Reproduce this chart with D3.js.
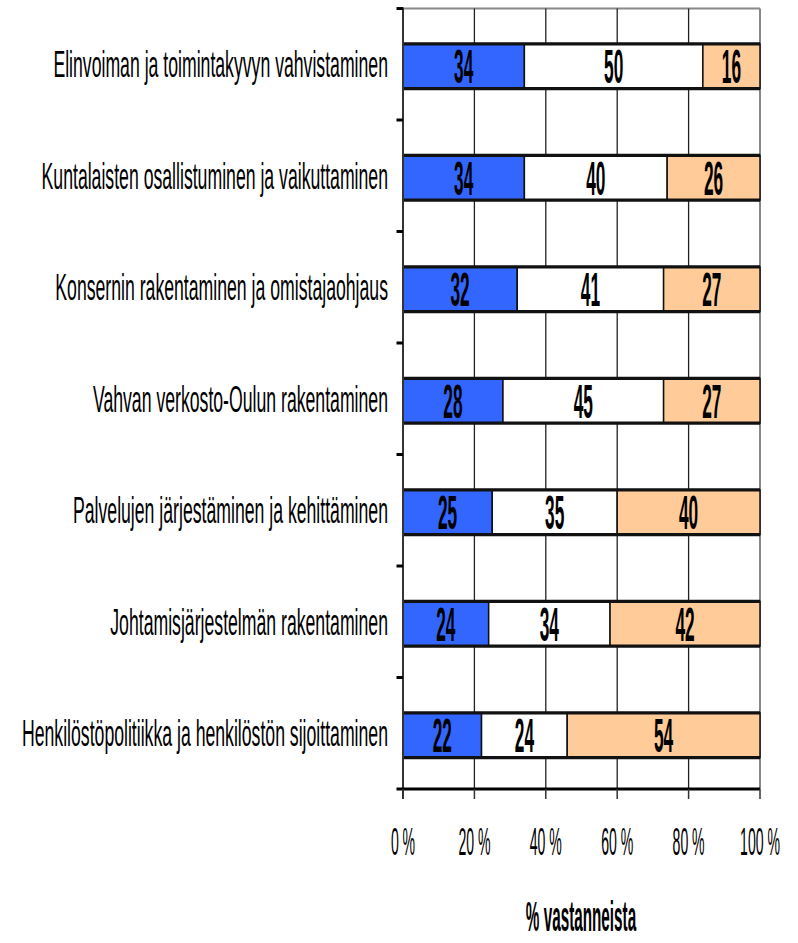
<!DOCTYPE html>
<html>
<head>
<meta charset="utf-8">
<script src="https://cdn.jsdelivr.net/npm/d3@7"></script>
<style>
  html, body { margin: 0; padding: 0; background: #fff; }
  svg { display: block; }
  text { font-family: "Liberation Sans", Arial, sans-serif; }
</style>
</head>
<body>
<svg id="chart" width="798" height="943"></svg>
<script>
const categories = [
  "Elinvoiman ja toimintakyvyn vahvistaminen",
  "Kuntalaisten osallistuminen ja vaikuttaminen",
  "Konsernin rakentaminen ja omistajaohjaus",
  "Vahvan verkosto-Oulun rakentaminen",
  "Palvelujen järjestäminen ja kehittäminen",
  "Johtamisjärjestelmän rakentaminen",
  "Henkilöstöpolitiikka ja henkilöstön sijoittaminen"
];
const seriesA = [34, 34, 32, 28, 25, 24, 22];
const seriesB = [50, 40, 41, 45, 35, 34, 24];
const seriesC = [16, 26, 27, 27, 40, 42, 54];
const tickValues = [0, 20, 40, 60, 80, 100];
const tickLabels = ["0 %", "20 %", "40 %", "60 %", "80 %", "100 %"];
const axisTitle = "% vastanneista";
const seriesColors = ["#3366FF", "#FFFFFF", "#FFCC99"];

const svg = d3.select("#chart");
const pLeft = 403, pRight = 760, pTop = 8.5, pBottom = 789;

const x = d3.scaleLinear().domain([0, 100]).range([pLeft, pRight]);
const y = d3.scaleBand().domain(categories).range([pTop, pBottom]).padding(0);
const barH = y.bandwidth() * 0.4;
const barOff = (y.bandwidth() - barH) / 2 + 2;

const rows = categories.map((c, i) => {
  const vals = [seriesA[i], seriesB[i], seriesC[i]];
  let acc = 0;
  return { cat: c, segs: vals.map((v, k) => { const s = { x0: acc, x1: acc + v, v, k }; acc += v; return s; }) };
});

// plot frame: top and right gray borders
svg.append("line").attr("x1", pLeft).attr("x2", pRight).attr("y1", pTop).attr("y2", pTop)
  .attr("stroke", "#888").attr("stroke-width", 2);
svg.append("line").attr("x1", pRight).attr("x2", pRight).attr("y1", pTop).attr("y2", pBottom)
  .attr("stroke", "#888").attr("stroke-width", 2);

// vertical gridlines
svg.append("g").selectAll("line").data(tickValues.slice(1, -1)).join("line")
  .attr("x1", d => x(d)).attr("x2", d => x(d))
  .attr("y1", pTop).attr("y2", pBottom)
  .attr("stroke", "#222").attr("stroke-width", 1.3);

// bars
const rowG = svg.append("g").selectAll("g").data(rows).join("g")
  .attr("transform", d => `translate(0,${y(d.cat) + barOff})`);

rowG.selectAll("rect").data(d => d.segs).join("rect")
  .attr("x", d => x(d.x0)).attr("width", d => x(d.x1) - x(d.x0))
  .attr("y", 0).attr("height", barH)
  .attr("fill", d => seriesColors[d.k])
  .attr("stroke", "#111").attr("stroke-width", 1.5);

rowG.append("line").attr("x1", x(0)).attr("x2", x(100)).attr("y1", 0).attr("y2", 0)
  .attr("stroke", "#111").attr("stroke-width", 3.2);
rowG.append("line").attr("x1", x(0)).attr("x2", x(100)).attr("y1", barH).attr("y2", barH)
  .attr("stroke", "#111").attr("stroke-width", 3.2);

// value labels (condensed bold)
rowG.selectAll("text.val").data(d => d.segs).join("text")
  .attr("class", "val")
  .attr("transform", d => `translate(${(x(d.x0) + x(d.x1)) / 2},${barH / 2 + 17}) scale(0.36,1)`)
  .attr("text-anchor", "middle")
  .attr("font-size", 48).attr("font-weight", "bold").attr("fill", "#000")
  .text(d => d.v);

// left axis
svg.append("line").attr("x1", pLeft).attr("x2", pLeft).attr("y1", pTop - 1).attr("y2", pBottom + 10)
  .attr("stroke", "#333").attr("stroke-width", 2);
const bounds = d3.range(categories.length).map(i => y(categories[i]));
svg.append("g").selectAll("line").data(bounds).join("line")
  .attr("x1", pLeft - 6.5).attr("x2", pLeft).attr("y1", d => d).attr("y2", d => d)
  .attr("stroke", "#000").attr("stroke-width", 3);

// bottom axis
svg.append("line").attr("x1", pLeft - 6.5).attr("x2", pRight).attr("y1", pBottom).attr("y2", pBottom)
  .attr("stroke", "#000").attr("stroke-width", 3.2);
svg.append("g").selectAll("line").data(tickValues).join("line")
  .attr("x1", d => x(d)).attr("x2", d => x(d)).attr("y1", pBottom).attr("y2", pBottom + 10)
  .attr("stroke", "#333").attr("stroke-width", 1.5);

// tick labels
svg.append("g").selectAll("text").data(tickValues).join("text")
  .attr("transform", d => `translate(${x(d)},855) scale(0.37,1)`)
  .attr("text-anchor", "middle").attr("font-size", 38).attr("fill", "#000")
  .text((d, i) => tickLabels[i]);

// category labels
svg.append("g").selectAll("text").data(categories).join("text")
  .attr("transform", c => `translate(388,${y(c) + barOff + barH / 2 + 11}) scale(0.484,1)`)
  .attr("text-anchor", "end").attr("font-size", 36.5).attr("fill", "#000")
  .text(c => c);

// axis title
svg.append("text")
  .attr("transform", `translate(581,931) scale(0.355,1)`)
  .attr("text-anchor", "middle").attr("font-size", 43).attr("font-weight", "bold").attr("fill", "#000")
  .text(axisTitle);
</script>
</body>
</html>
